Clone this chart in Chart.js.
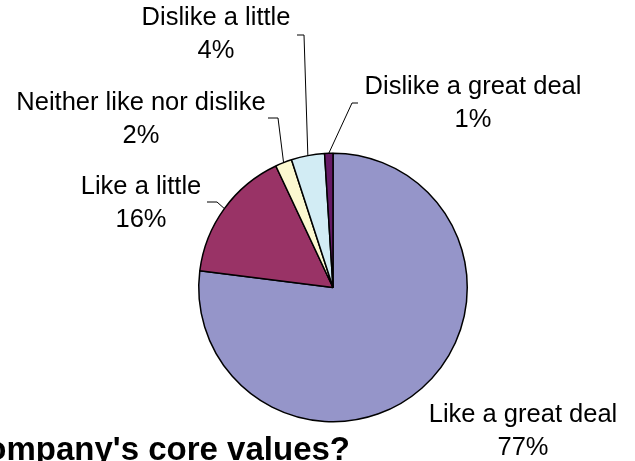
<!DOCTYPE html>
<html>
<head>
<meta charset="utf-8">
<title>Core values pie</title>
<script src="https://cdn.jsdelivr.net/npm/chart.js@4"></script>
<style>
  body { margin:0; background:#fff; }
  canvas { display:block; }
</style>
</head>
<body>
<canvas id="myChart" width="635" height="461"></canvas>
<script>
// data
const categories = ['Like a great deal', 'Like a little', 'Neither like nor dislike', 'Dislike a little', 'Dislike a great deal'];
const percents = [77, 16, 2, 4, 1];
const sliceColors = ['#9595c9', '#993366', '#fbf8d0', '#d2ecf4', '#661a66'];
const titleText = "company's core values?";

// where each label sits (text centre), and the elbow / end of its leader line
const labelSpots = [
  {x:523, y:415},
  {x:141, y:187, elbow:[217,202], end:[207,202]},
  {x:141, y:103, elbow:[278,118], end:[268,118]},
  {x:216, y:18,  elbow:[304,35],  end:[297,35]},
  {x:473, y:87,  elbow:[352,103], end:[358,103]}
];

const labelPlugin = {
  id: 'excelLabels',
  afterDatasetsDraw(chart) {
    const c = chart.ctx;
    const arcs = chart.getDatasetMeta(0).data;
    c.save();
    // leader lines
    c.strokeStyle = '#000';
    c.lineWidth = 1;
    for (let i = 0; i < arcs.length; i++) {
      let spot = labelSpots[i];
      if (!spot.elbow) continue;
      let a = arcs[i];
      let mid = (a.startAngle + a.endAngle) / 2;
      let ex = a.x + Math.cos(mid) * a.outerRadius;
      let ey = a.y + Math.sin(mid) * a.outerRadius;
      c.beginPath();
      c.moveTo(ex, ey);
      c.lineTo(spot.elbow[0], spot.elbow[1]);
      c.lineTo(spot.end[0], spot.end[1]);
      c.stroke();
    }
    // texts
    c.fillStyle = '#000';
    c.font = '25.5px "Liberation Sans", Arial, sans-serif';
    c.textAlign = 'center';
    c.textBaseline = 'middle';
    for (let i = 0; i < categories.length; i++) {
      let spot = labelSpots[i];
      c.fillText(categories[i], spot.x, spot.y);
      c.fillText(percents[i] + '%', spot.x, spot.y + 33);
    }
    // title, clipped by the bottom/left edge like the original
    c.font = 'bold 33px "Liberation Sans", Arial, sans-serif';
    c.textAlign = 'right';
    c.textBaseline = 'alphabetic';
    c.fillText(titleText, 350, 460);
    c.restore();
  }
};

const ctx = document.getElementById('myChart').getContext('2d');
const myPie = new Chart(ctx, {
  type: 'pie',
  data: {
    labels: categories,
    datasets: [{
      data: percents,
      backgroundColor: sliceColors,
      borderColor: '#000',
      borderWidth: 1.5
    }]
  },
  options: {
    responsive: false,
    animation: false,
    rotation: 0,
    layout: { padding: {left:198, right:167, top:152, bottom:38} },
    plugins: {
      legend: { display: false },
      tooltip: { enabled: false },
      title: { display: false }
    }
  },
  plugins: [labelPlugin]
});
</script>
</body>
</html>
